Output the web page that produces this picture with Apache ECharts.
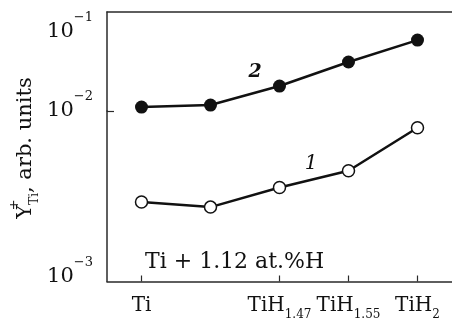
<!DOCTYPE html>
<html><head><meta charset="utf-8">
<script src="https://cdn.jsdelivr.net/npm/echarts@6/dist/echarts.min.js"></script>
<style>html,body{margin:0;padding:0;background:#fff}#c{width:452px;height:321px}</style>
</head><body><div id="c"></div>
<script>
// categories (x axis) and their label parts
const categories = ['Ti', 'Ti-x', 'TiH1.47', 'TiH1.55', 'TiH2'];
const xLabelMain = ['Ti', '', 'TiH', 'TiH', 'TiH'];
const xLabelSub  = ['', '', '1.47', '1.55', '2'];
// curve 2 (filled circles) and curve 1 (open circles), Y+_Ti, arb. units
const curve2 = [0.0112, 0.0119, 0.0207, 0.0417, 0.079];
const curve1 = [0.00282, 0.00263, 0.00345, 0.00436, 0.00793];
// y tick values and their exponent labels
const yUpperTicks = [0.1];
const yUpperExp = ['−1'];
const yLowerTicks = [0.001, 0.01];
const yLowerExp = ['−3', '−2'];
const yTickMarks = [0.01];

const FF = 'DejaVu Serif';
const INK = '#111';
const AX = '#2a2a2a';

function yLabelFmt(ticks, exps) {
  return function (v) {
    for (let i = 0; i < ticks.length; i++) {
      if (Math.abs(Math.log10(v) - Math.log10(ticks[i])) < 1e-3) return '{b|10}{s|' + exps[i] + '}';
    }
    return '';
  };
}
const yRich = {
  b: { fontFamily: FF, fontSize: 21, color: INK },
  s: { fontFamily: FF, fontSize: 13, lineHeight: 13, color: INK, padding: [0, 0, 28, 0] }
};
const axLine = { show: true, lineStyle: { color: AX, width: 1.5 } };

const chart = echarts.init(document.getElementById('c'), null, { renderer: 'canvas' });
chart.setOption({
  animation: false,
  backgroundColor: '#fff',
  grid: [
    { left: 107, right: -1, top: 12, height: 99 },
    { left: 107, right: -1, top: 111, height: 173 },
    { left: 107, right: -1, top: 12, height: 272 }
  ],
  xAxis: [
    { gridIndex: 0, type: 'category', data: categories, position: 'top', boundaryGap: true,
      axisLine: axLine, axisTick: { show: false }, axisLabel: { show: false }, splitLine: { show: false } },
    { gridIndex: 1, type: 'category', data: categories, position: 'bottom', boundaryGap: true,
      axisLine: axLine,
      axisTick: { show: true, inside: true, length: 6, alignWithLabel: true,
        interval: function (i) { return xLabelMain[i] !== ''; }, lineStyle: { color: AX, width: 1.2 } },
      axisLabel: { interval: 0, margin: 24, verticalAlign: 'middle',
        formatter: function (v, i) {
          if (!xLabelMain[i]) return '';
          return '{m|' + xLabelMain[i] + '}' + (xLabelSub[i] ? '{u|' + xLabelSub[i] + '}' : '');
        },
        rich: {
          m: { fontFamily: FF, fontSize: 20, color: INK },
          u: { fontFamily: FF, fontSize: 12, lineHeight: 12, color: INK, padding: [19, 0, 0, 0] }
        } },
      splitLine: { show: false } },
    { gridIndex: 2, type: 'category', data: categories, show: false }
  ],
  yAxis: [
    { gridIndex: 0, type: 'log', logBase: 10, min: 0.01, max: 0.1792,
      axisLine: axLine, axisTick: { show: false },
      axisLabel: { customValues: yUpperTicks, formatter: yLabelFmt(yUpperTicks, yUpperExp), margin: 14, rich: yRich },
      splitLine: { show: false } },
    { gridIndex: 1, type: 'log', logBase: 10, min: 0.000935, max: 0.01,
      axisLine: axLine,
      axisTick: { show: true, inside: true, length: 7, customValues: yTickMarks, lineStyle: { color: AX, width: 1.2 } },
      axisLabel: { customValues: yLowerTicks, formatter: yLabelFmt(yLowerTicks, yLowerExp), margin: 14, rich: yRich },
      splitLine: { show: false } },
    { gridIndex: 2, type: 'value', min: 0, max: 1,
      axisLine: { show: false }, axisTick: { show: false }, axisLabel: { show: false }, splitLine: { show: false },
      name: '{n|Y}{p|+}{q|Ti}{n|, arb. units}', nameLocation: 'middle', nameRotate: 90, nameGap: 76,
      nameTextStyle: { rich: {
        n: { fontFamily: FF, fontSize: 21, color: INK },
        p: { fontFamily: FF, fontSize: 13, lineHeight: 13, width: 0, color: INK, padding: [0, 0, 22, 0] },
        q: { fontFamily: FF, fontSize: 12, lineHeight: 12, color: INK, padding: [18, 0, 0, 0] }
      } } }
  ],
  series: [
    { name: '2', type: 'line', xAxisIndex: 0, yAxisIndex: 0, data: curve2, clip: false,
      symbol: 'circle', symbolSize: 13, itemStyle: { color: INK },
      lineStyle: { color: INK, width: 2.5 } },
    { name: '1', type: 'line', xAxisIndex: 1, yAxisIndex: 1, data: curve1, clip: false,
      symbol: 'circle', symbolSize: 12, itemStyle: { color: '#fff', borderColor: INK, borderWidth: 1.5 },
      lineStyle: { color: INK, width: 2.5 } }
  ],
  graphic: [
    { type: 'text', x: 255, y: 72, style: { text: '2', font: 'italic bold 19px "DejaVu Serif"', fill: INK, align: 'center', verticalAlign: 'middle' } },
    { type: 'text', x: 311, y: 164, style: { text: '1', font: 'italic 20px "DejaVu Serif"', fill: INK, align: 'center', verticalAlign: 'middle' } },
    { type: 'text', x: 145, y: 262, style: { text: 'Ti + 1.12 at.%H', font: '22px "DejaVu Serif"', fill: INK, align: 'left', verticalAlign: 'middle' } }
  ]
});
</script>
</body></html>
